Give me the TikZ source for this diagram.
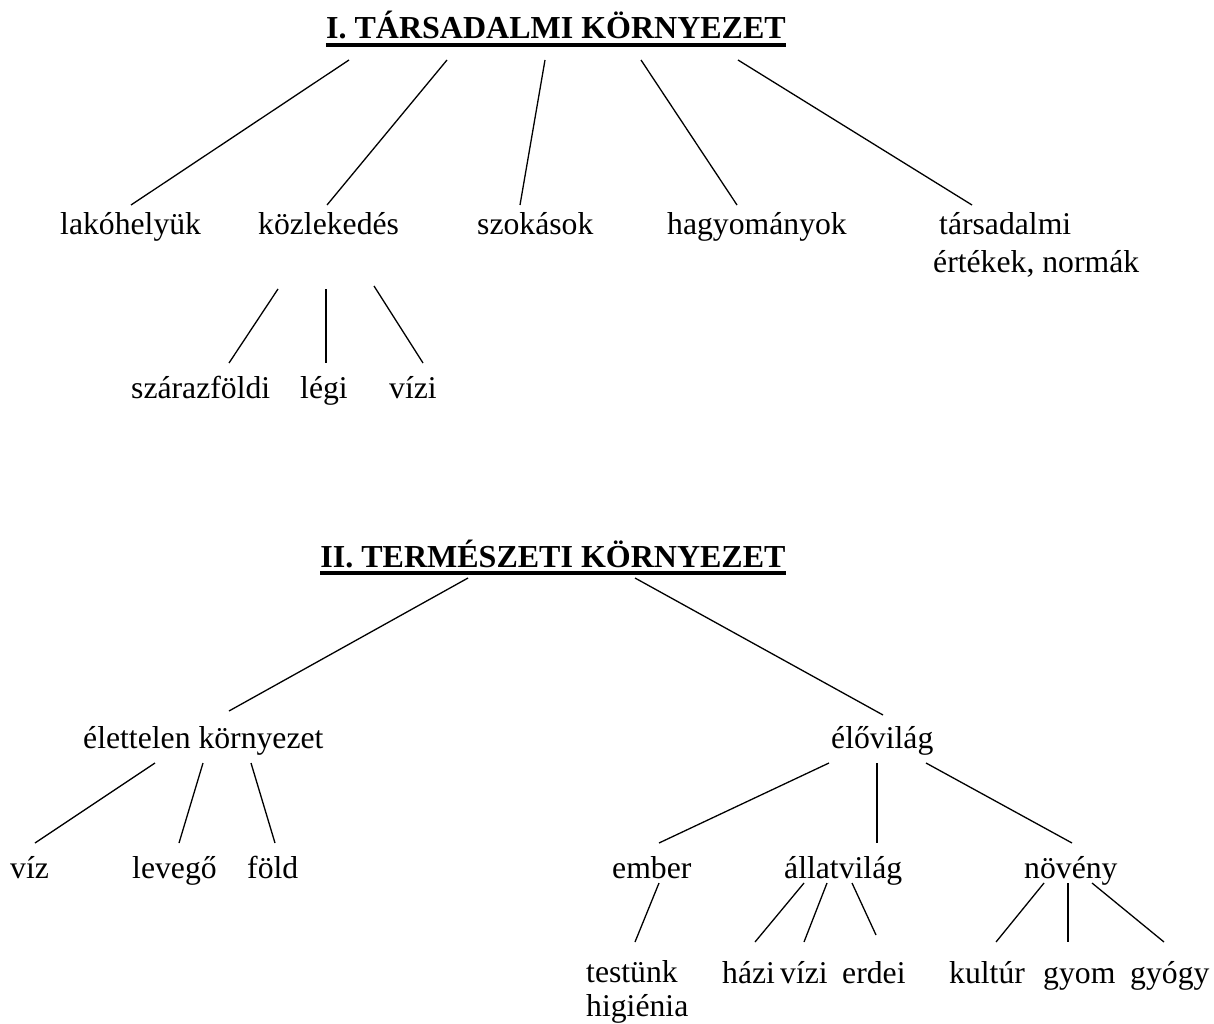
\documentclass[tikz,border=0pt]{standalone}
\usepackage{fontspec}
\setmainfont{Liberation Serif}

\tikzset{
    word/.style={anchor=base west, inner sep=0pt, align=left,
        font=\fontsize{31.7pt}{38pt}\selectfont},
    heading/.style={anchor=base, inner sep=0pt,
        font=\fontsize{32pt}{38pt}\selectfont\bfseries},
    branch/.style={line width=1.3pt},
    underbar/.style={line width=3.8pt}
}

\begin{document}
\begin{tikzpicture}[x=1pt, y=-1pt]
        \useasboundingbox (0,0) rectangle (1214,1024);

        % I. tarsadalmi kornyezet
        \node[heading] (ta) at (556,39) {I. TÁRSADALMI KÖRNYEZET};
        \draw[underbar] ([yshift=-6pt]ta.base west) -- ([yshift=-6pt]ta.base east);

        \node[word] (lak) at (60,234) {lakóhelyük};
        \node[word] (koz) at (258,234) {közlekedés};
        \node[word] (szok) at (477,234) {szokások};
        \node[word] (hagy) at (667,234) {hagyományok};
        % base of a two-line node is its last line
        \node[word] (tars) at (933,272) {\hspace*{6pt}társadalmi\\értékek, normák};

        \node[word] (szar) at (131,398) {szárazföldi};
        \node[word] (legi) at (300,398) {légi};
        \node[word] (vizia) at (389,398) {vízi};

        % II. termeszeti kornyezet
        \node[heading] (te) at (553,567) {II. TERMÉSZETI KÖRNYEZET};
        \draw[underbar] ([yshift=-6pt]te.base west) -- ([yshift=-6pt]te.base east);

        \node[word] (elet) at (83,748) {élettelen környezet};
        \node[word] (elo) at (831,748) {élővilág};

        \node[word] (viz) at (10,878) {víz};
        \node[word] (lev) at (132,878) {levegő};
        \node[word] (fold) at (247,878) {föld};
        \node[word] (ember) at (612,878) {ember};
        \node[word] (allat) at (784,878) {állatvilág};
        \node[word] (noveny) at (1024,878) {növény};

        \node[word, font=\fontsize{31.7pt}{34pt}\selectfont] (test) at (586,1016) {testünk\\higiénia};
        \node[word] (hazi) at (722,983) {házi};
        \node[word] (vizib) at (780,983) {vízi};
        \node[word] (erdei) at (842,983) {erdei};
        \node[word] (kult) at (949,983) {kultúr};
        \node[word] (gyom) at (1043,983) {gyom};
        \node[word] (gyogy) at (1130,983) {gyógy};

        % ends of the branches: (name-up) under the parent, (name-dn) over the child
        \foreach \n/\ux/\uy/\dx/\dy in {
            lak/349/60/131/205, koz/447/60/327/205, szok/545/60/520/205,
            hagy/641/60/737/205, tars/738/60/972/205,
            szar/278/289/229/363, legi/326/289/326/363, vizia/374/286/423/363,
            elet/468/578/229/711, elo/635/578/883/715,
            viz/155/763/35/843, lev/203/763/179/843, fold/251/763/275/843,
            ember/829/763/659/843, allat/877/763/877/843, noveny/926/763/1072/843,
            test/659/883/635/942,
            hazi/804/883/755/942, vizib/827/883/804/942, erdei/852/883/876/935,
            kult/1044/883/996/942, gyom/1068/883/1068/942, gyogy/1092/883/1164/942}
        {
            \coordinate (\n-up) at (\ux,\uy);
            \coordinate (\n-dn) at (\dx,\dy);
        }

        \foreach \n in {lak, koz, szok, hagy, tars, szar, legi, vizia,
                        elet, elo, viz, lev, fold, ember, allat, noveny,
                        test, hazi, vizib, erdei, kult, gyom, gyogy}
            \draw[branch] (\n-up) -- (\n-dn);
    \end{tikzpicture}
\end{document}
